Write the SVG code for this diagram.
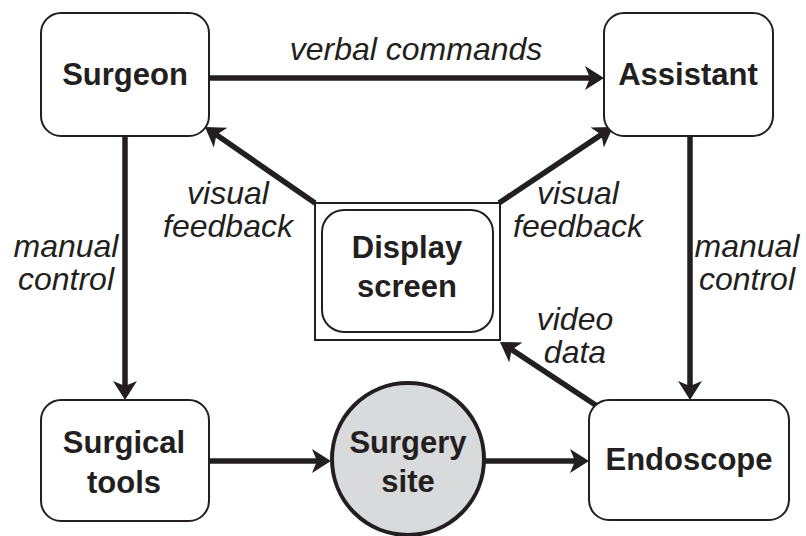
<svg xmlns="http://www.w3.org/2000/svg" width="806" height="536" viewBox="0 0 806 536">
<style>
.box{fill:#fff;stroke:#231f20;stroke-width:2}
.lbl{font-family:"Liberation Sans",Arial,sans-serif;font-weight:bold;font-size:31px;fill:#231f20;text-anchor:middle}
.it{font-family:"Liberation Sans",Arial,sans-serif;font-style:italic;font-size:32px;fill:#231f20;text-anchor:middle}
.con{stroke:#231f20;stroke-width:5.5;fill:none;marker-end:url(#ah)}
</style>
<defs>
<marker id="ah" viewBox="0 -13 21 26" markerUnits="userSpaceOnUse" markerWidth="21" markerHeight="26" refX="10" refY="0" orient="auto">
<path d="M0,-12 L19,0 L0,12 L5,0 Z" fill="#231f20"/>
</marker>
</defs>
<rect width="806" height="536" fill="#fff"/>
<g id="connectors">
<path class="con" d="M209,78 L595,78"/>
<path class="con" d="M315,203 L212.4,132"/>
<path class="con" d="M499,203 L605.5,131.9"/>
<path class="con" d="M125,136 L125,391"/>
<path class="con" d="M690,136 L690,391"/>
<path class="con" d="M209,461 L322,461"/>
<path class="con" d="M485,461 L580,461"/>
<path class="con" d="M597,406 L507.5,346.9"/>
<text class="it" x="416" y="60">verbal commands</text>
<text class="it"><tspan x="228" y="204">visual</tspan><tspan x="228" y="237">feedback</tspan></text>
<text class="it"><tspan x="578" y="204">visual</tspan><tspan x="578" y="237">feedback</tspan></text>
<text class="it"><tspan x="66" y="257">manual</tspan><tspan x="66" y="290">control</tspan></text>
<text class="it"><tspan x="747" y="257">manual</tspan><tspan x="747" y="290">control</tspan></text>
<text class="it"><tspan x="575" y="330">video</tspan><tspan x="575" y="363">data</tspan></text>
</g>
<g id="surgeon">
<rect class="box" x="41" y="13" width="168" height="123" rx="20"/>
<text class="lbl" x="125" y="85">Surgeon</text>
</g>
<g id="assistant">
<rect class="box" x="604" y="13" width="169" height="123" rx="20"/>
<text class="lbl" x="688" y="85">Assistant</text>
</g>
<g id="display">
<rect class="box" x="315" y="203" width="185" height="137"/>
<rect class="box" x="322" y="210" width="171" height="122" rx="22"/>
<text class="lbl" x="407" y="258">Display</text>
<text class="lbl" x="407" y="297">screen</text>
</g>
<g id="tools">
<rect class="box" x="41" y="400" width="168" height="121" rx="20"/>
<text class="lbl" x="124" y="453">Surgical</text>
<text class="lbl" x="124" y="493">tools</text>
</g>
<g id="site">
<circle cx="408" cy="459" r="76" fill="#d9dadb" stroke="#231f20" stroke-width="4"/>
<text class="lbl" x="408" y="453">Surgery</text>
<text class="lbl" x="408" y="492">site</text>
</g>
<g id="endoscope">
<rect class="box" x="589" y="400" width="200" height="120" rx="20"/>
<text class="lbl" x="689" y="470">Endoscope</text>
</g>
</svg>
